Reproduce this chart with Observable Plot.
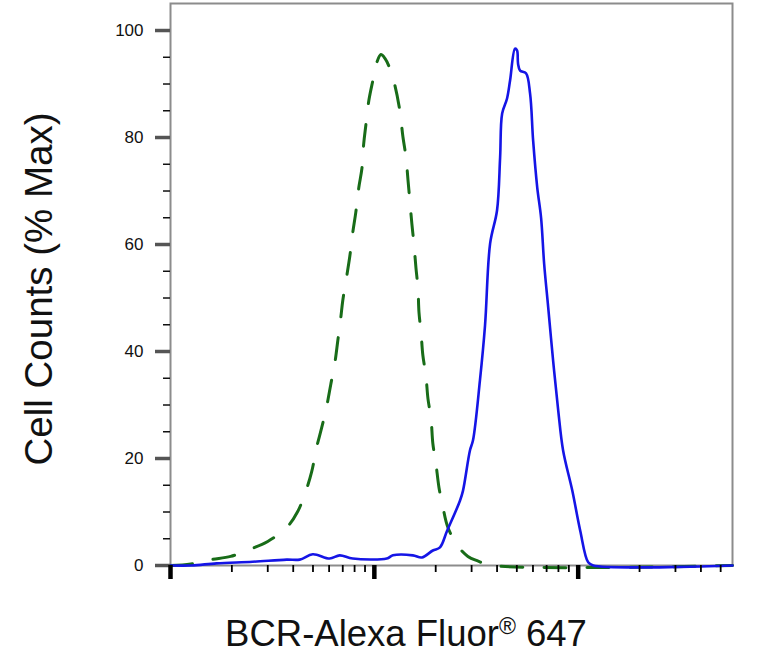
<!DOCTYPE html>
<html>
<head>
<meta charset="utf-8">
<script src="https://cdn.jsdelivr.net/npm/d3@7"></script>
<script src="https://cdn.jsdelivr.net/npm/@observablehq/plot@0.6"></script>
<style>
  html, body { margin: 0; padding: 0; background: #fff; }
  #chart { width: 784px; height: 665px; }
</style>
</head>
<body>
<div id="chart"></div>
<script>
// Isotype control (green dashed): log10 intensity and % max
const greenLogX = [1.00, 1.10, 1.197, 1.295, 1.388, 1.477, 1.570, 1.624, 1.663, 1.693, 1.717, 1.742, 1.767, 1.786, 1.806, 1.821, 1.835, 1.845, 1.865, 1.880, 1.894, 1.909, 1.924, 1.939, 1.948, 1.958, 1.973, 1.993, 2.012, 2.032, 2.052, 2.076, 2.101, 2.125, 2.140, 2.155, 2.165, 2.174, 2.184, 2.194, 2.204, 2.214, 2.219, 2.229, 2.238, 2.253, 2.263, 2.278, 2.287, 2.302, 2.317, 2.337, 2.361, 2.410, 2.459, 2.504, 2.582, 3.757];
const greenY    = [0, 0.3, 1.1, 1.7, 3.0, 4.5, 7.1, 10.1, 13.8, 17.6, 22.1, 25.8, 29.9, 33.8, 37.8, 42.1, 46.2, 49.5, 54.2, 57.9, 62.2, 66.0, 70.7, 74.2, 78.9, 82.2, 86.9, 90.7, 94.0, 95.5, 94.8, 92.9, 89.7, 85.0, 80.2, 76.4, 72.1, 68.2, 63.9, 60.2, 55.7, 51.8, 47.3, 43.6, 39.3, 35.5, 31.2, 27.5, 22.8, 19.1, 14.6, 10.8, 7.1, 3.6, 1.7, 0.9, 0, 0];

// BCR stained (blue solid)
const blueLogX = [1.00, 1.103, 1.226, 1.403, 1.570, 1.634, 1.698, 1.781, 1.830, 1.894, 2.061, 2.091, 2.189, 2.233, 2.287, 2.322, 2.356, 2.420, 2.435, 2.469, 2.484, 2.518, 2.543, 2.568, 2.602, 2.617, 2.627, 2.651, 2.666, 2.690, 2.700, 2.705, 2.715, 2.744, 2.764, 2.779, 2.799, 2.818, 2.833, 2.853, 2.877, 2.902, 2.926, 2.971, 3.010, 3.049, 3.074, 3.757];
const blueY    = [0, 0, 0.4, 0.7, 1.1, 1.1, 2.1, 1.3, 1.9, 1.3, 1.3, 1.9, 1.9, 1.5, 2.8, 3.4, 6.4, 12.1, 14.0, 21.5, 23.4, 34.6, 44.9, 60.2, 66.4, 76.3, 84.5, 87.3, 90.7, 96.6, 96.3, 93.8, 92.5, 92.0, 88.2, 79.4, 70.7, 65.0, 56.4, 48.2, 38.3, 29.0, 21.5, 14.0, 6.5, 0.6, 0, 0];

const yMajorTicks = [0, 20, 40, 60, 80, 100];
const yMinorTicks = [5, 10, 15, 25, 30, 35, 45, 50, 55, 65, 70, 75, 85, 90, 95];
const xMajorTicks = [10, 100, 1000];
const xMinorTicks = [20, 30, 40, 50, 60, 70, 80, 90, 200, 300, 400, 500, 600, 700, 800, 900, 2000, 3000, 4000, 5000];
const xDomain = [10, 5715];
const yDomain = [0, 105.05];

const xLabel = "BCR-Alexa Fluor";
const xLabelSup = "®";
const xLabelEnd = " 647";
const yLabel = "Cell Counts (% Max)";

const green = greenLogX.map((l, i) => ({x: Math.pow(10, l), y: greenY[i]}));
const blue = blueLogX.map((l, i) => ({x: Math.pow(10, l), y: blueY[i]}));

const font = "'Liberation Sans', Arial, Helvetica, sans-serif";

const chart = Plot.plot({
  width: 784,
  height: 665,
  marginLeft: 170,
  marginRight: 52,
  marginTop: 3,
  marginBottom: 100,
  style: {fontFamily: font, background: "#fff", color: "#111"},
  x: {type: "log", domain: xDomain},
  y: {domain: yDomain},
  marks: [
    Plot.frame({stroke: "#8c8c8c", strokeWidth: 2}),
    Plot.line(green, {x: "x", y: "y", stroke: "#186c18", strokeWidth: 3, strokeDasharray: "22,21", curve: "catmull-rom"}),
    Plot.line(blue, {x: "x", y: "y", stroke: "#1515e6", strokeWidth: 2.6, curve: "catmull-rom"}),
    Plot.axisY({ticks: yMajorTicks, tickSize: 15, tickPadding: 12, strokeWidth: 3.5, stroke: "#555", fontSize: 17, fill: "#111", label: null}),
    Plot.axisY({ticks: yMinorTicks, tickSize: 7, strokeWidth: 1.5, stroke: "#111", tickFormat: () => "", label: null}),
    Plot.axisX({ticks: xMajorTicks, tickSize: 14, strokeWidth: 4.5, stroke: "#000", tickFormat: () => "", label: null}),
    Plot.axisX({ticks: xMinorTicks, tickSize: 7, strokeWidth: 1.8, stroke: "#000", tickFormat: () => "", label: null})
  ]
});

const svg = d3.select(chart);
const xl = svg.append("text")
  .attr("x", 406).attr("y", 646)
  .attr("text-anchor", "middle")
  .attr("font-family", font)
  .attr("font-size", 36.5)
  .attr("fill", "#111");
xl.append("tspan").text(xLabel);
xl.append("tspan").attr("font-size", 23).attr("dy", -12).text(xLabelSup);
xl.append("tspan").attr("dy", 12).text(xLabelEnd);

svg.append("text")
  .attr("transform", "translate(52,289) rotate(-90)")
  .attr("text-anchor", "middle")
  .attr("font-family", font)
  .attr("font-size", 38.5)
  .attr("fill", "#111")
  .text(yLabel);

document.getElementById("chart").appendChild(chart);
</script>
</body>
</html>
